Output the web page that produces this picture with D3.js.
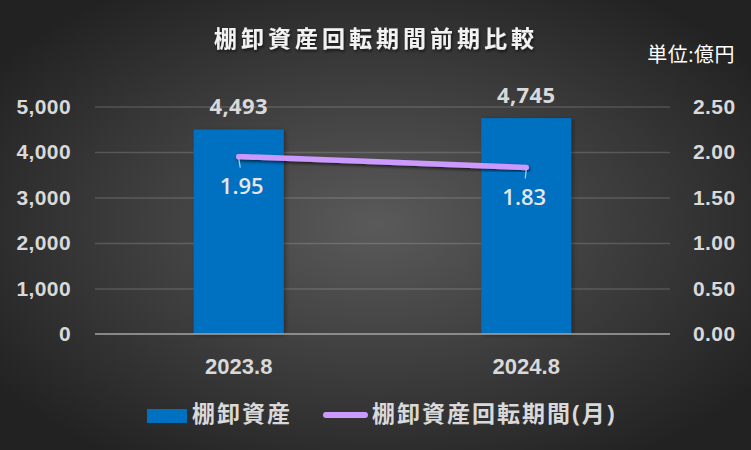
<!DOCTYPE html>
<html>
<head>
<meta charset="utf-8">
<script src="https://cdn.jsdelivr.net/npm/d3@7"></script>
<style>
  html, body { margin: 0; padding: 0; background: #262626; }
  svg { display: block; font-family: "Open Sans", "Noto Sans CJK JP", sans-serif; }
</style>
</head>
<body>
<svg id="chart"></svg>
<script>
// data
const periods = ["2023.8", "2024.8"];
const inventory = [4493, 4745];          // 棚卸資産 (億円)
const turnoverMonths = [1.95, 1.83];     // 棚卸資産回転期間(月)
const leftTicks = [0, 1000, 2000, 3000, 4000, 5000];
const rightTicks = [0, 0.5, 1.0, 1.5, 2.0, 2.5];
const seriesNames = ["棚卸資産", "棚卸資産回転期間(月)"];

const W = 751, H = 450;
const PLOT = { left: 95, right: 670, top: 106.5, bottom: 334 };
const BAR_COLOR = "#0070C0";
const LINE_COLOR = "#CC99FF";
const TEXT_COLOR = "#d9d9d9";

const svg = d3.select("#chart").attr("width", W).attr("height", H);
const defs = svg.append("defs");

// radial background
const bg = defs.append("radialGradient").attr("id", "bg")
  .attr("cx", "50%").attr("cy", "50%").attr("r", "62%");
bg.append("stop").attr("offset", "0%").attr("stop-color", "#5a5a5a");
bg.append("stop").attr("offset", "100%").attr("stop-color", "#222222");
svg.append("rect").attr("width", W).attr("height", H).attr("fill", "url(#bg)");

// shadows
defs.append("filter").attr("id", "shadow").attr("x", "-20%").attr("y", "-20%").attr("width", "140%").attr("height", "160%")
  .append("feDropShadow").attr("dx", 1).attr("dy", 2).attr("stdDeviation", 1.5)
  .attr("flood-color", "#000").attr("flood-opacity", 0.6);
defs.append("filter").attr("id", "barShadow").attr("x", "-10%").attr("y", "-10%").attr("width", "130%").attr("height", "120%")
  .append("feDropShadow").attr("dx", 2).attr("dy", 1).attr("stdDeviation", 2)
  .attr("flood-color", "#000").attr("flood-opacity", 0.35);

// scales
const x = d3.scaleBand().domain(periods).range([PLOT.left, PLOT.right]).padding(0);
const barW = x.bandwidth() * 0.313;
const yL = d3.scaleLinear().domain([0, 5000]).range([PLOT.bottom, PLOT.top]);
const yR = d3.scaleLinear().domain([0, 2.5]).range([PLOT.bottom, PLOT.top]);

// gridlines
svg.append("g")
  .attr("transform", `translate(${PLOT.left},0)`)
  .call(d3.axisLeft(yL).tickValues(leftTicks.slice(1)).tickSize(-(PLOT.right - PLOT.left)).tickFormat(""))
  .call(g => g.select(".domain").remove())
  .call(g => g.selectAll("line").attr("stroke", "#ffffff").attr("stroke-opacity", 0.16).attr("stroke-width", 1.3));

// left axis
svg.append("g")
  .attr("transform", `translate(${PLOT.left},0)`)
  .call(d3.axisLeft(yL).tickValues(leftTicks).tickFormat(d3.format(",")).tickSize(0).tickPadding(24))
  .call(g => g.select(".domain").remove())
  .call(g => g.selectAll("text").attr("fill", TEXT_COLOR).attr("font-size", 21).attr("font-weight", "bold").attr("letter-spacing", 0.4));

// right axis
svg.append("g")
  .attr("transform", `translate(${PLOT.right},0)`)
  .call(d3.axisRight(yR).tickValues(rightTicks).tickFormat(d3.format(".2f")).tickSize(0).tickPadding(23))
  .call(g => g.select(".domain").remove())
  .call(g => g.selectAll("text").attr("fill", TEXT_COLOR).attr("font-size", 21).attr("font-weight", "bold").attr("letter-spacing", 0.4));

// bars
svg.append("g").selectAll("rect")
  .data(periods)
  .join("rect")
  .attr("x", (d) => x(d) + (x.bandwidth() - barW) / 2)
  .attr("y", (d, i) => yL(inventory[i]))
  .attr("width", barW)
  .attr("height", (d, i) => PLOT.bottom - yL(inventory[i]))
  .attr("fill", BAR_COLOR)
  .attr("filter", "url(#barShadow)");

// baseline
svg.append("line")
  .attr("x1", PLOT.left).attr("x2", PLOT.right)
  .attr("y1", PLOT.bottom).attr("y2", PLOT.bottom)
  .attr("stroke", "#a6a6a6").attr("stroke-width", 1.5);

// x axis
svg.append("g")
  .attr("transform", `translate(0,${PLOT.bottom})`)
  .call(d3.axisBottom(x).tickSize(0).tickPadding(24))
  .call(g => g.select(".domain").remove())
  .call(g => g.selectAll("text").attr("fill", TEXT_COLOR).attr("font-size", 22).attr("font-weight", "bold"));

// bar labels
svg.append("g").selectAll("text")
  .data(periods)
  .join("text")
  .attr("x", (d) => x(d) + x.bandwidth() / 2)
  .attr("y", (d, i) => yL(inventory[i]) - 15.5)
  .attr("text-anchor", "middle")
  .attr("fill", TEXT_COLOR)
  .attr("font-size", 22)
  .attr("font-weight", "bold")
  .attr("letter-spacing", 0.4)
  .text((d, i) => d3.format(",")(inventory[i]));

// line
const cx = (d) => x(d) + x.bandwidth() / 2;
const line = d3.line()
  .x((d) => cx(d))
  .y((d, i) => yR(turnoverMonths[i]));
svg.append("path")
  .datum(periods)
  .attr("d", line)
  .attr("fill", "none")
  .attr("stroke", LINE_COLOR)
  .attr("stroke-width", 5.5)
  .attr("stroke-linecap", "round")
  .attr("filter", "url(#shadow)");

// leader lines + line labels
const labelOffset = [3, -2];
svg.append("g").selectAll("line")
  .data(periods)
  .join("line")
  .attr("x1", (d) => cx(d))
  .attr("y1", (d, i) => yR(turnoverMonths[i]) + 2)
  .attr("x2", (d, i) => cx(d) + labelOffset[i] * 0.5)
  .attr("y2", (d, i) => yR(turnoverMonths[i]) + 11)
  .attr("stroke", "#b8cde0")
  .attr("stroke-width", 1.2);

svg.append("g").selectAll("text")
  .data(periods)
  .join("text")
  .attr("x", (d, i) => cx(d) + labelOffset[i])
  .attr("y", (d, i) => yR(turnoverMonths[i]) + 37.5)
  .attr("text-anchor", "middle")
  .attr("fill", "#e6e6e6")
  .attr("font-size", 22)
  .attr("font-weight", 600)
  .text((d, i) => d3.format(".2f")(turnoverMonths[i]));

// title
svg.append("text")
  .attr("x", 214).attr("y", 47)
  .attr("fill", "#f2f2f2")
  .attr("font-size", 23)
  .attr("font-weight", "bold")
  .attr("letter-spacing", 4)
  .attr("filter", "url(#shadow)")
  .text("棚卸資産回転期間前期比較");

// unit
svg.append("text")
  .attr("x", 735).attr("y", 62)
  .attr("text-anchor", "end")
  .attr("fill", "#ffffff")
  .attr("font-size", 20)
  .attr("letter-spacing", 0.5)
  .text("単位:億円");

// legend
const legend = svg.append("g");
legend.append("rect")
  .attr("x", 147).attr("y", 409).attr("width", 40).attr("height", 14)
  .attr("fill", BAR_COLOR);
legend.append("text")
  .attr("x", 192).attr("y", 422)
  .attr("fill", TEXT_COLOR).attr("font-size", 23).attr("font-weight", "bold")
  .attr("letter-spacing", 2)
  .text(seriesNames[0]);
legend.append("line")
  .attr("x1", 326).attr("x2", 365).attr("y1", 415).attr("y2", 415)
  .attr("stroke", LINE_COLOR).attr("stroke-width", 6).attr("stroke-linecap", "round");
legend.append("text")
  .attr("x", 372).attr("y", 422)
  .attr("fill", TEXT_COLOR).attr("font-size", 23).attr("font-weight", "bold")
  .attr("letter-spacing", 2)
  .text(seriesNames[1]);
</script>
</body>
</html>
